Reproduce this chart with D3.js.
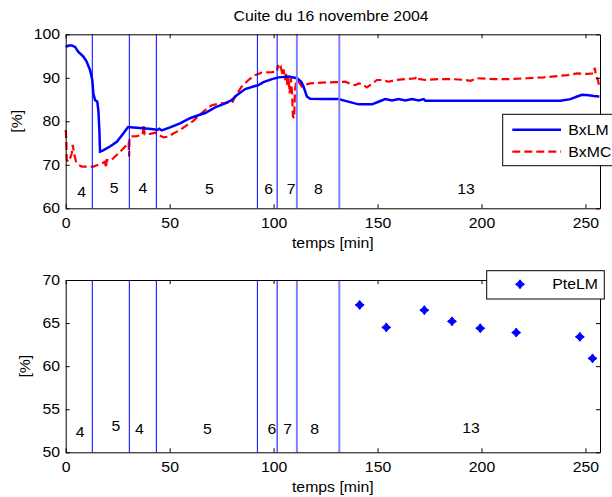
<!DOCTYPE html>
<html>
<head>
<meta charset="utf-8">
<script src="https://cdn.jsdelivr.net/npm/d3@7"></script>
<style>
body { margin: 0; background: #fff; }
text { font-family: "Liberation Sans", Arial, sans-serif; fill: #000; }
</style>
</head>
<body>
<script>
// BxLM, solid blue  [temps, %]
var bxLM = [
  [0,97.1],[1.5,97.4],[3,97.4],[4.5,97.1],[6,96.0],[8.5,94.9],[10,93.8],[11.7,91.8],
  [12.8,89.5],[13.3,86.4],[14.1,84.9],[15.2,84.5],[15.7,82.6],[16.2,78.0],[16.5,73.0],
  [18,73.3],[21.3,74.2],[24.6,75.3],[27.7,77.2],[30,78.7],[32.5,78.6],[37.4,78.4],
  [42.2,78.2],[44,78.0],[45,78.3],[46.2,77.9],[50.2,78.6],[55,79.5],[59.8,80.7],
  [63.8,81.4],[67.1,81.9],[71.9,83.2],[76.7,84.1],[79.9,84.9],[82.3,86.0],[86.3,87.4],
  [91.1,88.1],[92.7,88.3],[95.1,89.0],[99.2,89.7],[102.4,90.1],[107.2,90.3],[111.2,89.9],
  [113.3,89.1],[114.4,88.0],[116,85.7],[117.6,85.2],[123.3,85.1],[131.2,85.1],[134.5,84.7],
  [137.7,84.3],[140.9,83.9],[147.3,83.9],[150.5,84.5],[153.7,85.1],[157,84.8],[160.1,85.1],
  [163.4,84.8],[166.6,85.1],[169.8,84.8],[172.2,85.1],[173,84.7],[238,84.7],[242.8,85.1],
  [246,85.7],[248.4,86.1],[251.6,86.0],[254,85.8],[256.7,85.7]
];

// BxMC, dashed red  [temps, %]
var bxMC = [
  [0,78.0],[0.3,75.7],[0.5,71.1],[1.3,70.7],[2.1,71.5],[2.9,72.6],[3.4,74.6],[4.0,72.6],
  [5.0,70.7],[6.1,70.0],[7.7,69.6],[13.3,69.6],[15.7,70.0],[17.3,70.3],[18.9,70.7],
  [19.4,69.2],[19.7,71.1],[20.6,71.0],[21.3,70.9],[22.9,71.5],[24.6,72.3],[27,73.4],
  [29.4,74.6],[30.3,75.2],[30.5,71.9],[30.7,76.2],[31,76.5],[34.2,76.6],[37.0,76.9],
  [37.5,79.3],[38.0,77.0],[40.6,77.1],[43,77.4],[44.6,76.9],[47,76.3],[49.4,76.5],
  [51.8,77.2],[55,78.0],[58.3,79.1],[61.4,80.1],[63.8,81.2],[67.1,82.6],[70.3,83.7],
  [74.3,84.1],[78.3,84.3],[79.9,84.1],[81.5,85.7],[84.7,88.0],[87.9,89.5],[91.1,90.6],
  [94.4,91.2],[99.2,91.3],[101.6,91.4],[102.1,92.9],[102.8,91.8],[103.5,92.4],[104.3,90.6],
  [104.8,91.9],[105.6,89.5],[106.1,91.0],[106.7,88.0],[107.2,90.3],[107.7,86.4],[108.3,89.9],
  [108.8,87.2],[109.3,81.1],[109.9,80.7],[110.3,87.2],[110.9,89.5],[112,89.1],[113.6,88.0],
  [115.2,88.4],[117.6,88.7],[123.3,88.9],[129.7,89.0],[131.2,89.0],[134.5,89.1],[136.9,88.6],
  [139.3,88.3],[140.9,88.7],[142.5,88.6],[144.9,87.8],[147.3,88.6],[149.7,89.5],[152.1,89.5],
  [155.3,89.1],[158.5,89.5],[163.4,89.7],[168.2,89.9],[168.5,90.3],[169,89.8],[173,89.5],
  [179.4,89.7],[185.8,89.7],[192.3,89.5],[194.7,89.3],[197.9,89.9],[205.9,89.7],[213.9,89.7],
  [221.9,89.9],[229.9,90.1],[236.4,90.4],[241.2,90.6],[246,91.0],[250.8,90.9],[254,91.0],
  [254.5,92.3],[255,90.5],[256,89.5],[256.5,88.3]
];

// PteLM, blue markers  [temps, %]
var pteLM = [
  [141.4,67.1],[154.2,64.5],[172.5,66.5],[185.8,65.2],[199.4,64.4],[216.7,63.9],[247.3,63.4],[253.4,60.9]
];

// phase boundaries [min]
var phaseBounds = [12.8, 30.6, 43.6, 92.2, 101.7, 111.2, 131.6];

// phase labels, with their place (temps, %) in each panel
var phaseNames = ["4","5","4","5","6","7","8","13"];
var phaseTop = [[7.7,63.8],[23.3,64.6],[37.1,64.6],[69.1,64.4],[97.6,64.4],[108.5,64.4],[121.6,64.4],[192.6,64.4]];
var phaseBot = [[6.9,52.4],[24.2,53.0],[35.4,52.7],[68.2,52.7],[99.2,52.7],[106.7,52.7],[119.7,52.7],[195,52.8]];

var xTicks = [0, 50, 100, 150, 200, 250];
var yTicksTop = [60, 70, 80, 90, 100];
var yTicksBot = [50, 55, 60, 65, 70];

var width = 612, height = 497;
var SX = 1.13;   // text is a bit wider than plain Arial in the original

var svg = d3.select("body").append("svg")
    .attr("width", width)
    .attr("height", height);

var x = d3.scaleLinear().domain([0, 257]).range([65.7, 600]);
var yTop = d3.scaleLinear().domain([60, 100]).range([208.3, 34.3]);
var yBot = d3.scaleLinear().domain([50, 70]).range([452.3, 280]);

function txt(px, py, s, anchor, rot) {
  return svg.append("text")
    .attr("transform", "translate(" + px + "," + py + ")" + (rot ? " rotate(-90)" : "") + " scale(" + SX + ",1)")
    .attr("text-anchor", anchor || "middle")
    .attr("dy", "0.35em")
    .attr("font-size", "14px")
    .text(s);
}

function frame(y, yTicks) {
  var g = svg.append("g");
  var y0 = y.range()[0], y1 = y.range()[1];
  var x0 = x.range()[0], x1 = x.range()[1];

  var ax = [
    g.append("g").attr("transform", "translate(0," + y0 + ")")
      .call(d3.axisBottom(x).tickValues(xTicks).tickSize(-4).tickSizeOuter(0).tickPadding(9.5)),
    g.append("g").attr("transform", "translate(0," + y1 + ")")
      .call(d3.axisTop(x).tickValues(xTicks).tickSize(-4).tickSizeOuter(0).tickFormat("")),
    g.append("g").attr("transform", "translate(" + x0 + ",0)")
      .call(d3.axisLeft(y).tickValues(yTicks).tickSize(-4).tickSizeOuter(0).tickPadding(5)),
    g.append("g").attr("transform", "translate(" + x1 + ",0)")
      .call(d3.axisRight(y).tickValues(yTicks).tickSize(-4).tickSizeOuter(0).tickFormat(""))
  ];
  ax.forEach(function(a) {
    a.attr("font-family", null).attr("font-size", null);
    a.select(".domain").attr("stroke", "#000").attr("stroke-width", 1);
    a.selectAll(".tick line").attr("stroke", "#000");
    a.selectAll(".tick text")
      .attr("font-size", "14px")
      .attr("transform", "scale(" + SX + ",1)");
  });
  return g;
}

function bounds(y) {
  svg.append("g").selectAll("line")
    .data(phaseBounds)
    .enter().append("line")
    .attr("x1", function(d) { return x(d); })
    .attr("x2", function(d) { return x(d); })
    .attr("y1", y.range()[0])
    .attr("y2", y.range()[1])
    .attr("stroke", function(d, i) { return i >= 5 ? "#8080ff" : "#0000ff"; })
    .attr("stroke-width", function(d, i) { return i >= 5 ? 2 : 1; });
}

function phases(y, pos) {
  pos.forEach(function(p, i) {
    txt(x(p[0]), y(p[1]), phaseNames[i]);
  });
}

// ---------- top panel ----------
var lineTop = d3.line()
  .x(function(d) { return x(d[0]); })
  .y(function(d) { return yTop(d[1]); });

svg.append("path")
  .datum(bxMC)
  .attr("d", lineTop)
  .attr("fill", "none")
  .attr("stroke", "#ff0000")
  .attr("stroke-width", 2.2)
  .attr("stroke-dasharray", "8,4");

svg.append("path")
  .datum(bxLM)
  .attr("d", lineTop)
  .attr("fill", "none")
  .attr("stroke", "#0000ff")
  .attr("stroke-width", 2.5);

bounds(yTop);
phases(yTop, phaseTop);
frame(yTop, yTicksTop);

txt(331, 16, "Cuite du 16 novembre 2004");
txt(332.8, 243, "temps [min]");
txt(17.3, 121.3, "[%]", "middle", true);

// legend top
svg.append("rect")
  .attr("x", 502.7).attr("y", 114.3)
  .attr("width", 130).attr("height", 51.4)
  .attr("fill", "#fff").attr("stroke", "#000");
svg.append("line")
  .attr("x1", 512.3).attr("x2", 561).attr("y1", 129.7).attr("y2", 129.7)
  .attr("stroke", "#0000ff").attr("stroke-width", 2.5);
svg.append("line")
  .attr("x1", 512.3).attr("x2", 561).attr("y1", 151.7).attr("y2", 151.7)
  .attr("stroke", "#ff0000").attr("stroke-width", 2.2).attr("stroke-dasharray", "8,4");
txt(568.3, 129.7, "BxLM", "start");
txt(568.3, 151.7, "BxMC", "start");

// ---------- bottom panel ----------
bounds(yBot);
phases(yBot, phaseBot);
frame(yBot, yTicksBot);

var star = "M0,-4.5L1.9,-1.9L4.5,0L1.9,1.9L0,4.5L-1.9,1.9L-4.5,0L-1.9,-1.9Z";

svg.append("g").selectAll("path")
  .data(pteLM)
  .enter().append("path")
  .attr("transform", function(d) { return "translate(" + x(d[0]) + "," + yBot(d[1]) + ")"; })
  .attr("d", star)
  .attr("fill", "#0000ff")
  .attr("stroke", "#0000ff")
  .attr("stroke-width", 1);

txt(332.8, 486.7, "temps [min]");
txt(25, 366.2, "[%]", "middle", true);

// legend bottom
svg.append("rect")
  .attr("x", 486.7).attr("y", 270.7)
  .attr("width", 117.6).attr("height", 28.3)
  .attr("fill", "#fff").attr("stroke", "#000");
svg.append("path")
  .attr("transform", "translate(520,284.3)")
  .attr("d", star)
  .attr("fill", "#0000ff")
  .attr("stroke", "#0000ff")
  .attr("stroke-width", 1);
txt(552.3, 284.3, "PteLM", "start");
</script>
</body>
</html>
